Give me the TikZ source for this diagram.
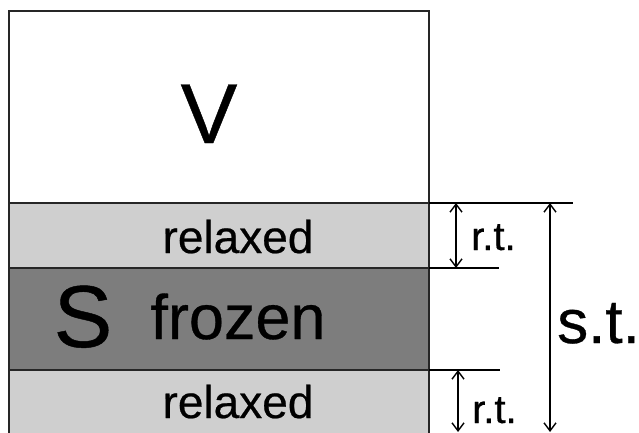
\documentclass[tikz,border=0pt]{standalone}
\usepackage{fontspec}
\setmainfont[FakeBold=0.5]{Liberation Sans}
\usetikzlibrary{arrows.meta}
\definecolor{relaxc}{gray}{0.81}
\definecolor{frozc}{gray}{0.49}
\begin{document}
\begin{tikzpicture}[x=1pt,y=-1pt,
  layer/.style={draw=black!85, line width=1.4pt},
  guide/.style={draw=black, line width=1.4pt},
  dim/.style={line width=1.4pt, {Straight Barb[length=8pt,width=12pt]}-{Straight Barb[length=8pt,width=12pt]}},
  lbl/.style={anchor=base, inner sep=0pt},
  sidelbl/.style={anchor=base west, inner sep=0pt}]
\useasboundingbox (0,0) rectangle (639,433);
\clip (0,0) rectangle (639,433);
\fill[white] (0,0) rectangle (639,433);
% layers
\filldraw[layer, fill=white] (9,11) rectangle (429,203);
\filldraw[layer, fill=relaxc] (9,203) rectangle (429,268);
\filldraw[layer, fill=frozc] (9,268) rectangle (429,370);
\filldraw[layer, fill=relaxc] (9,370) rectangle (429,450);
% texts
\node[lbl, font=\fontsize{85}{85}\selectfont] (v) at (209,143) {V};
\node[lbl, font=\fontsize{46}{46}\selectfont] (r1) at (238,253) {relaxed};
\node[lbl, font=\fontsize{88}{88}\selectfont] (s) at (83,347) {S};
\node[lbl, font=\fontsize{63}{63}\selectfont] (fz) at (238,339) {frozen};
\node[lbl, font=\fontsize{46}{46}\selectfont] (r2) at (238,418) {relaxed};
\node[sidelbl, font=\fontsize{40}{40}\selectfont] (rt1) at (471,250) {r.t.};
\node[sidelbl, font=\fontsize{40}{40}\selectfont] (rt2) at (472,423) {r.t.};
\node[sidelbl, font=\fontsize{62}{62}\selectfont] (st) at (557,343) {s.t.};
% guide lines
\coordinate (g1a) at (429,203); \coordinate (g1b) at (573,203);
\coordinate (g2a) at (429,268); \coordinate (g2b) at (499,268);
\coordinate (g3a) at (429,370); \coordinate (g3b) at (500,370);
\draw[guide] (g1a) -- (g1b);
\draw[guide] (g2a) -- (g2b);
\draw[guide] (g3a) -- (g3b);
% dimension arrows
\coordinate (a1) at (456,203); \coordinate (a2) at (456,268);
\coordinate (b1) at (458,370); \coordinate (b2) at (458,432);
\coordinate (c1) at (550,203); \coordinate (c2) at (550,432);
\draw[dim] (a1) -- (a2);
\draw[dim] (b1) -- (b2);
\draw[dim] (c1) -- (c2);
\end{tikzpicture}
\end{document}
